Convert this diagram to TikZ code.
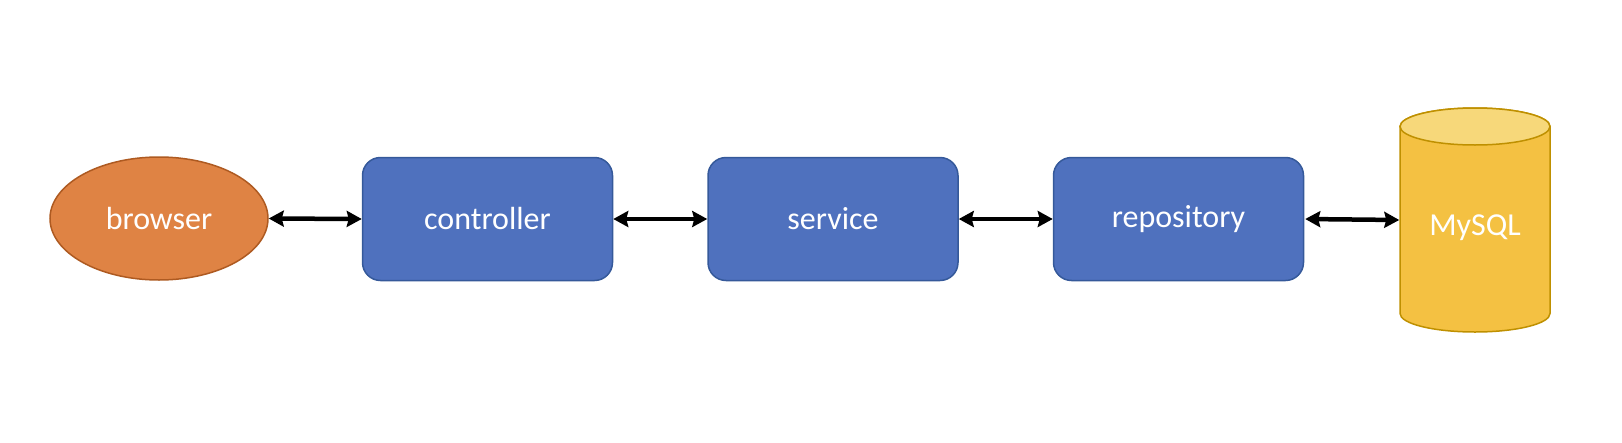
\documentclass[tikz,border=0pt]{standalone}
\usepackage{fontspec}
\setmainfont{Carlito}
\usetikzlibrary{arrows.meta,shapes.geometric}
\definecolor{boxfill}{HTML}{4F71BE}
\definecolor{boxline}{HTML}{35599A}
\definecolor{orfill}{HTML}{DF8344}
\definecolor{orline}{HTML}{AE5A21}
\definecolor{dbfill}{HTML}{F4C142}
\definecolor{dbtop}{HTML}{F7D87A}
\definecolor{dbline}{HTML}{BF9000}
\tikzset{
  layerbox/.style={draw=boxline, fill=boxfill, line width=1.5pt, rounded corners=18pt,
    minimum width=250pt, minimum height=123pt, text=white, inner sep=0pt},
  clientshape/.style={ellipse, draw=orline, fill=orfill, line width=1.5pt,
    minimum width=218pt, minimum height=123pt, text=white, inner sep=0pt},
  linkarrow/.style={line width=4.5pt, {Stealth[length=15pt,width=16pt,inset=2pt]}-{Stealth[length=15pt,width=16pt,inset=2pt]}},
  txt/.style={font=\fontsize{32}{36}\selectfont}
}
\begin{document}
\begin{tikzpicture}[x=1pt,y=-1pt]
\useasboundingbox (0,0) rectangle (1622,442);
\node[clientshape, txt] (browser) at (159,218.5) {browser};
\node[layerbox, txt] (controller) at (487.5,219) {controller};
\node[layerbox, txt] (service) at (833,219) {service};
\node[layerbox, txt] (repository) at (1178.5,219) {repository};
% database cylinder
\node[minimum width=150pt, minimum height=224pt, inner sep=0pt, outer sep=0pt] (db) at (1475,220) {};
\draw[dbline, fill=dbfill, line width=1.5pt]
  (1400,126.5) -- (1400,313.5)
  arc[start angle=180, end angle=360, x radius=75pt, y radius=18.5pt]
  -- (1550,126.5)
  arc[start angle=0, end angle=180, x radius=75pt, y radius=18.5pt] -- cycle;
\draw[dbline, fill=dbtop, line width=1.5pt] (1475,126.5) ellipse [x radius=75pt, y radius=18.5pt];
\node[txt, text=white] (dblabel) at (1475,228) {MySQL};
% connectors
\draw[linkarrow] (browser.east) -- (controller.west);
\draw[linkarrow] (controller.east) -- (service.west);
\draw[linkarrow] (service.east) -- (repository.west);
\draw[linkarrow] ([xshift=1pt]repository.east) -- ([xshift=-0.75pt]db.west);
\end{tikzpicture}
\end{document}
